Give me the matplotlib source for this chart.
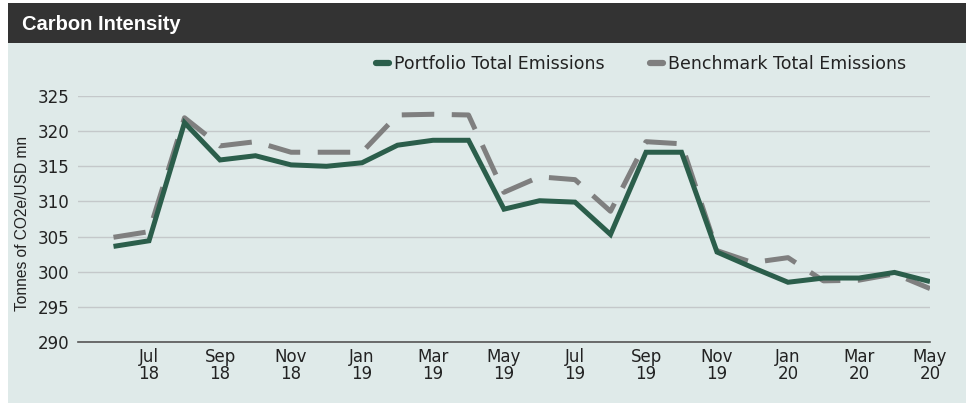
import matplotlib
matplotlib.use("Agg")
import matplotlib.pyplot as plt
from matplotlib.patches import Rectangle

# monthly values, Jun 18 .. May 20
months = ["Jun 18", "Jul 18", "Aug 18", "Sep 18", "Oct 18", "Nov 18", "Dec 18",
          "Jan 19", "Feb 19", "Mar 19", "Apr 19", "May 19", "Jun 19", "Jul 19",
          "Aug 19", "Sep 19", "Oct 19", "Nov 19", "Dec 19", "Jan 20", "Feb 20",
          "Mar 20", "Apr 20", "May 20"]
portfolio = [303.6, 304.4, 321.2, 315.9, 316.5, 315.2, 315.0, 315.5, 318.0, 318.7,
             318.7, 308.9, 310.1, 309.9, 305.3, 317.0, 317.0, 302.8, 300.6, 298.5,
             299.1, 299.1, 299.9, 298.6]
benchmark = [304.9, 305.7, 321.9, 317.9, 318.5, 317.0, 317.0, 317.0, 322.3, 322.4,
             322.3, 311.3, 313.5, 313.1, 308.6, 318.5, 318.2, 303.0, 301.3, 302.0,
             298.7, 298.8, 299.7, 297.6]
tick_labels = ["Jul\n18", "Sep\n18", "Nov\n18", "Jan\n19", "Mar\n19", "May\n19",
               "Jul\n19", "Sep\n19", "Nov\n19", "Jan\n20", "Mar\n20", "May\n20"]

W, H = 966, 403
bg = "#dfeae9"
green = "#2b5e4b"
grey = "#7f7f7f"

fig = plt.figure(figsize=(W / 100, H / 100), dpi=100, facecolor="white")

# panel background + title bar
fig.patches.append(Rectangle((8 / W, 0), 1 - 8 / W, 1 - 42.5 / H, transform=fig.transFigure,
                             facecolor=bg, edgecolor="none", zorder=-2))
fig.patches.append(Rectangle((8 / W, 1 - 42.5 / H), 1 - 8 / W, 39.5 / H, transform=fig.transFigure,
                             facecolor="#333333", edgecolor="none", zorder=-2))
fig.text(22 / W, 1 - 25 / H, "Carbon Intensity", color="white", fontsize=14.5,
         fontweight="bold", family="Liberation Sans", va="center", ha="left")

ax = fig.add_axes([78 / W, 61 / H, 852 / W, 246 / H])
ax.set_zorder(1)
ax.set_facecolor("none")

x = list(range(len(months)))
ax.plot(x, portfolio, color=green, lw=3.6, solid_joinstyle="miter",
        solid_capstyle="butt", label="Portfolio Total Emissions", zorder=3)
ax.plot(x, benchmark, color=grey, lw=3.6, dashes=(6.5, 3.5), dash_capstyle="butt",
        label="Benchmark Total Emissions", zorder=2)

ax.set_xlim(-1, 23)
ax.set_ylim(290, 325)
ax.set_yticks(range(290, 326, 5))
ax.set_xticks(range(1, 24, 2))
ax.set_xticklabels(tick_labels, linespacing=0.95)
ax.grid(axis="y", color="#c4c8ca", lw=1)
ax.set_axisbelow(True)
for s in ["top", "right", "left"]:
    ax.spines[s].set_visible(False)
ax.spines["bottom"].set_color("#555555")
ax.spines["bottom"].set_linewidth(1.2)
ax.tick_params(length=0, labelsize=12, labelcolor="#222222", pad=6)
ax.tick_params(axis="x", pad=4)
for lab in ax.get_xticklabels() + ax.get_yticklabels():
    lab.set_family("DejaVu Sans")

ax.set_ylabel("Tonnes of CO2e/USD mn", family="Liberation Sans", fontsize=11.2, color="#222222")
ax.yaxis.set_label_coords(-0.056, 0.48)

leg = fig.legend(loc="center right", bbox_to_anchor=(906 / W, 1 - 64 / H), ncol=2,
                 frameon=False, handlelength=0.75, handletextpad=0.3,
                 columnspacing=2.6, borderpad=0, borderaxespad=0,
                 prop={"family": "DejaVu Sans", "size": 12.5})
for h in leg.legend_handles:
    h.set_linewidth(4.5)
    h.set_linestyle("-")
    h.set_solid_capstyle("round")
for t in leg.get_texts():
    t.set_color("#222222")

fig.savefig("out.png", dpi=100, facecolor="white")
